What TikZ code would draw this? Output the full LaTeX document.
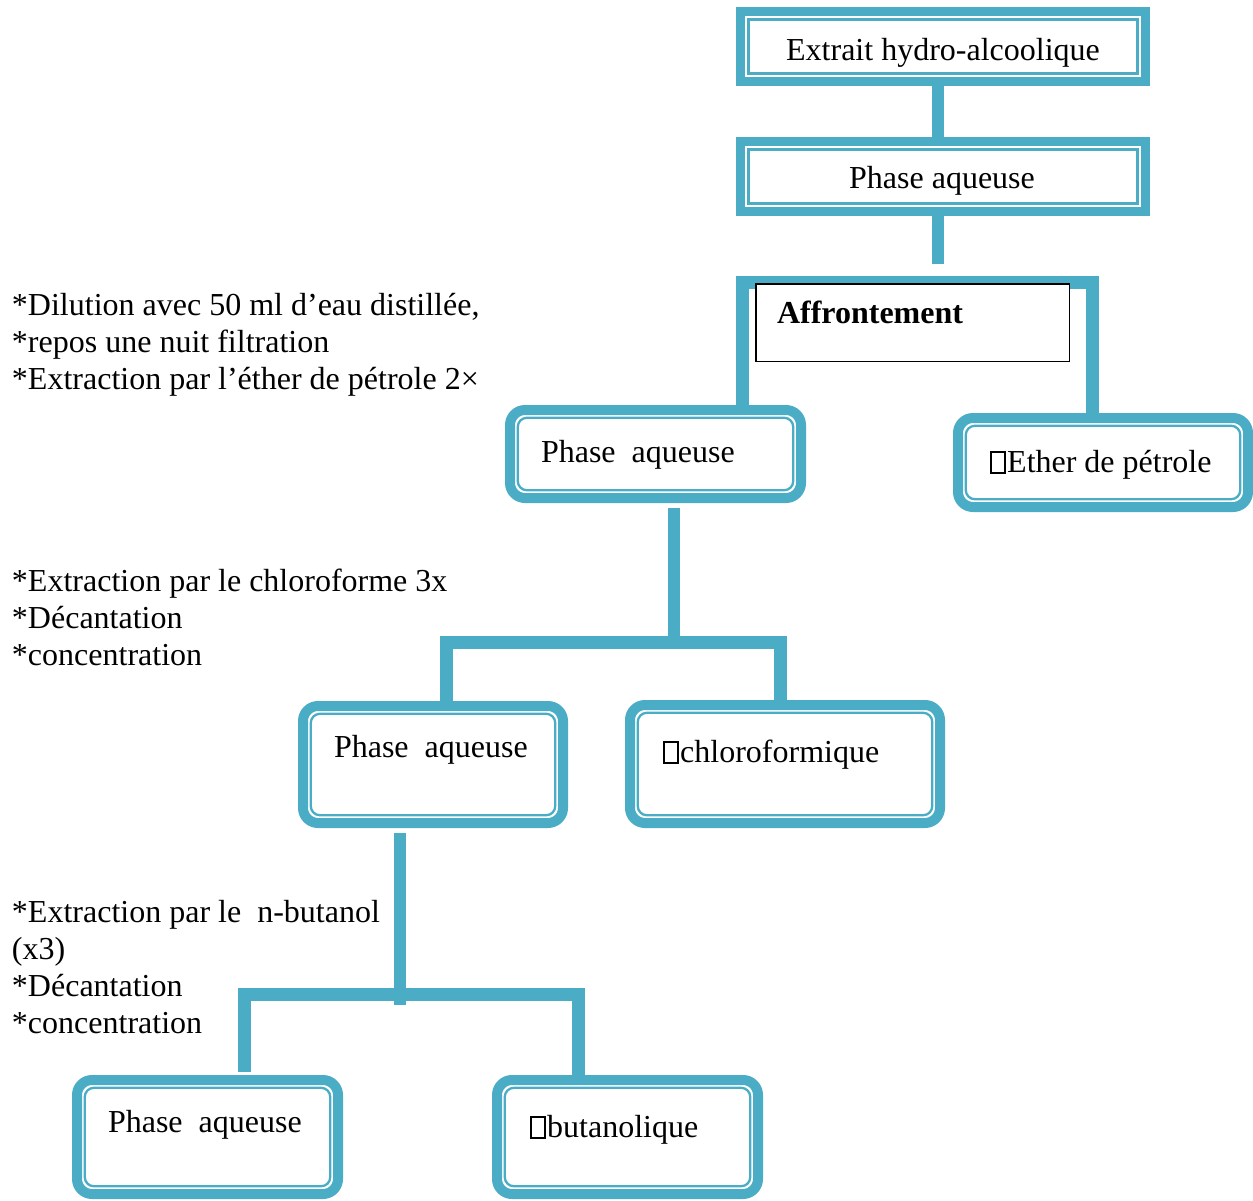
\documentclass[tikz,border=0pt]{standalone}
\usepackage{fontspec}
\setmainfont{Liberation Serif}
\usetikzlibrary{calc}
\definecolor{acc}{HTML}{4BACC6}
\newcommand\tofubox{{\fboxsep=0pt\fboxrule=1.6pt\fbox{\rule{0pt}{19pt}\hspace{12.5pt}}}\kern1.5pt}
\begin{document}
\begin{tikzpicture}[x=1pt,y=-1pt,
  txt/.style={font=\fontsize{32}{37}\selectfont, inner sep=0pt, outer sep=0pt},
  lbl/.style={txt, anchor=base west},
  sqbox/.style={draw=acc, line width=9pt, rectangle, inner sep=0pt, outer sep=0pt},
  rdbox/.style={draw=acc, line width=10pt, rectangle, rounded corners=15pt, inner sep=0pt, outer sep=0pt},
  sqin/.style={draw=acc, line width=2.6pt},
  rdin/.style={draw=acc, line width=2.3pt, rounded corners=9pt},
  conn/.style={draw=acc, line width=12pt},
  brk/.style={draw=acc, line width=13pt, line join=miter},
]
\useasboundingbox (0,0) rectangle (1253,1200);

% square boxes
\node[sqbox, minimum width=405pt, minimum height=70pt] (b1) at (943,46.5) {};
\node[sqbox, minimum width=405pt, minimum height=70pt] (b2) at (943,176.5) {};
\foreach \b in {b1,b2}
  \draw[sqin] ($(\b.north west)+(7.8,7.8)$) rectangle ($(\b.south east)+(-7.8,-7.8)$);
\node[txt, anchor=base] (tb1) at (943,60) {Extrait hydro-alcoolique};
\node[txt, anchor=base] (tb2) at (942,188) {Phase aqueuse};

% rounded boxes
\node[rdbox, minimum width=291pt, minimum height=88pt] (p3) at (655.5,454) {};
\node[rdbox, minimum width=290pt, minimum height=89pt] (eth) at (1103,462.5) {};
\node[rdbox, minimum width=260pt, minimum height=117pt] (p4) at (433,764.5) {};
\node[rdbox, minimum width=310pt, minimum height=118pt] (chl) at (785,764) {};
\node[rdbox, minimum width=261pt, minimum height=114pt] (p6) at (207.5,1137) {};
\node[rdbox, minimum width=261pt, minimum height=114pt] (but) at (627.5,1137) {};
\foreach \b in {p3,eth,p4,chl,p6,but}
  \draw[rdin] ($(\b.north west)+(7.8,7.8)$) rectangle ($(\b.south east)+(-7.8,-7.8)$);

% connectors
\coordinate (j1) at (938,264);
\draw[conn] ($(b1.south)+(-5,0)$) -- ($(b2.north)+(-5,0)$);
\draw[conn] (j1 |- b2.south) -- (j1);

\coordinate (t1l) at (742,282);
\coordinate (t1r) at (1092,282);
\draw[brk] (t1l |- p3.north) -- (t1l) -- (t1r) -- (t1r |- eth.north);

\coordinate (t2) at (674,642);
\coordinate (t2l) at (446,642);
\coordinate (t2r) at (780,642);
\draw[conn] ($(t2 |- p3.south)+(0,10)$) -- (t2);
\draw[brk] (t2l |- p4.north) -- (t2l) -- (t2r) -- (t2r |- chl.north);

\coordinate (t3) at (400,994);
\coordinate (t3l) at (244,994);
\coordinate (t3r) at (578,994);
\draw[conn] ($(t3 |- p4.south)+(0,10)$) -- ($(t3)+(0,11)$);
\draw[brk] ($(t3l |- p6.north)+(0,-8)$) -- (t3l) -- (t3r) -- (t3r |- but.north);

% Affrontement box
\node[draw=black, line width=1.5pt, fill=white, rectangle, inner sep=0pt, outer sep=0pt,
      minimum width=313.5pt, minimum height=77.5pt] (aff) at (912.5,322.5) {};
\node[lbl, font=\fontsize{32}{37}\selectfont\bfseries] (taff) at (777,323) {Affrontement};

% box texts
\node[lbl] (tp3) at (541,462) {Phase~ aqueuse};
\node[lbl] (teth) at (990,472) {\tofubox Ether de pétrole};
\node[lbl] (tp4) at (334,757) {Phase~ aqueuse};
\node[lbl] (tchl) at (663,762) {\tofubox chloroformique};
\node[lbl] (tp6) at (108,1132) {Phase~ aqueuse};
\node[lbl] (tbut) at (530,1137) {\tofubox butanolique};

% side notes
\node[lbl] (n1a) at (12,315) {*Dilution avec 50 ml d’eau distillée,};
\node[lbl] (n1b) at (12,352) {*repos une nuit filtration};
\node[lbl] (n1c) at (12,389) {*Extraction par l’éther de pétrole 2×};
\node[lbl] (n2a) at (12,591) {*Extraction par le chloroforme 3x};
\node[lbl] (n2b) at (12,628) {*Décantation};
\node[lbl] (n2c) at (12,665) {*concentration};
\node[lbl] (n3a) at (12,922) {*Extraction par le~ n-butanol};
\node[lbl] (n3b) at (12,959) {(x3)};
\node[lbl] (n3c) at (12,996) {*Décantation};
\node[lbl] (n3d) at (12,1033) {*concentration};
\end{tikzpicture}
\end{document}
